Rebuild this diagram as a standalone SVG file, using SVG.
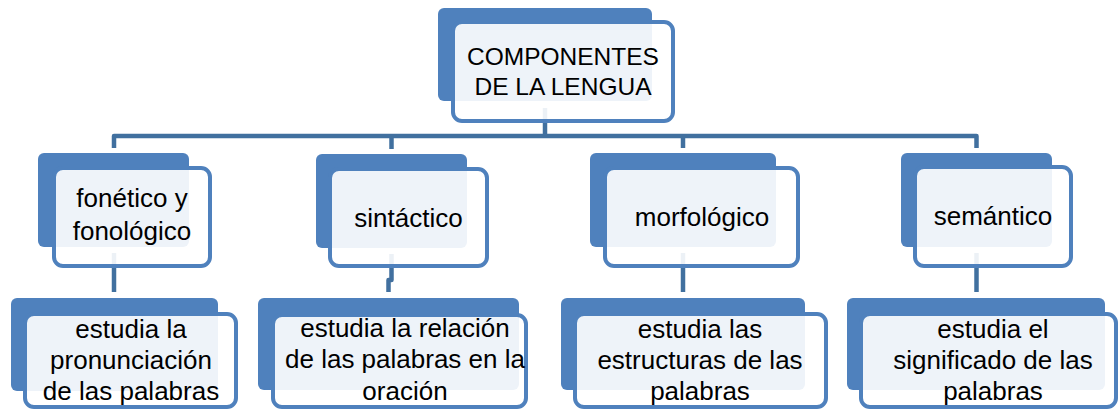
<svg xmlns="http://www.w3.org/2000/svg" width="1119" height="410" viewBox="0 0 1119 410">
<style>
.back{fill:#4F81BD}
.front{fill:#FFFFFF;fill-opacity:0.9;stroke:#4F81BD;stroke-width:4}
.conn{fill:none;stroke:#41709F;stroke-width:4.5;stroke-linejoin:round}
text{font-family:"Liberation Sans",Arial,sans-serif;font-size:26px;fill:#000;text-anchor:middle}
.top{font-size:24.5px}
</style>
<rect width="1119" height="410" fill="#FFFFFF"/>
<g id="connectors">
<path class="conn" d="M114 148 V136 H976.5 V148"/>
<path class="conn" d="M545 108 V136"/>
<path class="conn" d="M391.5 136 V149"/>
<path class="conn" d="M683 136 V148"/>
<path class="conn" d="M114 253 V292"/>
<path class="conn" d="M391.5 254 V280 H388.5 V292"/>
<path class="conn" d="M683 253 V292"/>
<path class="conn" d="M976.5 253 V292"/>
</g>
<g id="n-componentes">
<rect class="back" x="438" y="8" width="214" height="93" rx="6"/>
<rect class="front" x="453" y="22" width="220" height="99" rx="9"/>
<text class="top" x="563" y="65">COMPONENTES</text>
<text class="top" x="563" y="95">DE LA LENGUA</text>
</g>
<g id="n-fonetico">
<rect class="back" x="38" y="153" width="151" height="94" rx="6"/>
<rect class="front" x="54" y="168" width="156" height="98" rx="9"/>
<text x="132" y="207">fonético y</text>
<text x="132" y="240">fonológico</text>
</g>
<g id="n-sintactico">
<rect class="back" x="316" y="154" width="151" height="94" rx="6"/>
<rect class="front" x="330" y="169" width="157" height="97" rx="9"/>
<text x="408.5" y="227">sintáctico</text>
</g>
<g id="n-morfologico">
<rect class="back" x="590" y="153" width="186" height="94" rx="6"/>
<rect class="front" x="605" y="168" width="193" height="98" rx="9"/>
<text x="702" y="226">morfológico</text>
</g>
<g id="n-semantico">
<rect class="back" x="901" y="153" width="151" height="94" rx="6"/>
<rect class="front" x="915" y="167" width="156" height="99" rx="9"/>
<text x="993" y="225">semántico</text>
</g>
<g id="n-pronunciacion">
<rect class="back" x="11" y="298" width="207" height="93" rx="6"/>
<rect class="front" x="25" y="314" width="211" height="93" rx="9"/>
<text x="131" y="338">estudia la</text>
<text x="131" y="369">pronunciación</text>
<text x="131" y="400">de las palabras</text>
</g>
<g id="n-relacion">
<rect class="back" x="258" y="298" width="261" height="92" rx="6"/>
<rect class="front" x="273" y="315" width="253" height="92" rx="9"/>
<text x="405" y="337">estudia la relación</text>
<text x="405" y="368">de las palabras en la</text>
<text x="405" y="400">oración</text>
</g>
<g id="n-estructuras">
<rect class="back" x="561" y="298" width="244" height="92" rx="6"/>
<rect class="front" x="575" y="314" width="251" height="93" rx="9"/>
<text x="700" y="338">estudia las</text>
<text x="700" y="369">estructuras de las</text>
<text x="700" y="400">palabras</text>
</g>
<g id="n-significado">
<rect class="back" x="847" y="298" width="258" height="92" rx="6"/>
<rect class="front" x="861" y="314" width="255" height="93" rx="9"/>
<text x="993" y="338">estudia el</text>
<text x="993" y="369">significado de las</text>
<text x="993" y="400">palabras</text>
</g>
</svg>
